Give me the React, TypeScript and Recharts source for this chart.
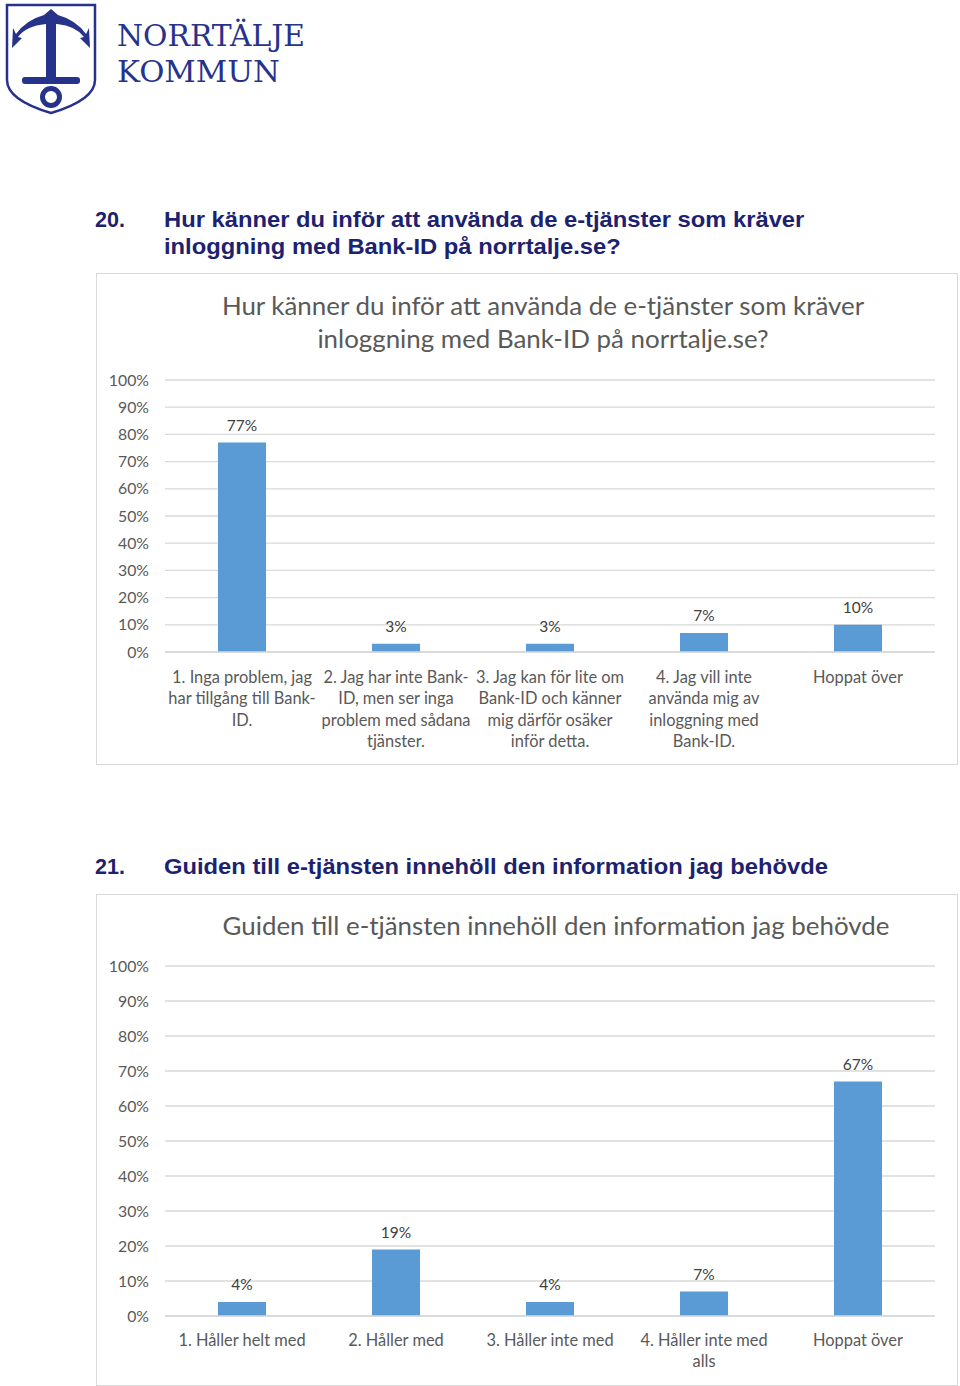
import React, { useLayoutEffect, useRef, useState } from 'react';
import { BarChart, Bar, XAxis, YAxis, CartesianGrid, LabelList } from 'recharts';

const q20Categories = [
  '1. Inga problem, jag\nhar tillgång till Bank-\nID.',
  '2. Jag har inte Bank-\nID, men ser inga\nproblem med sådana\ntjänster.',
  '3. Jag kan för lite om\nBank-ID och känner\nmig därför osäker\ninför detta.',
  '4. Jag vill inte\nanvända mig av\ninloggning med\nBank-ID.',
  'Hoppat över',
];
const q20Values = [77, 3, 3, 7, 10];

const q21Categories = [
  '1. Håller helt med',
  '2. Håller med',
  '3. Håller inte med',
  '4. Håller inte med\nalls',
  'Hoppat över',
];
const q21Values = [4, 19, 4, 7, 67];

const yTicks = [0, 10, 20, 30, 40, 50, 60, 70, 80, 90, 100];

const FONT = 'Lato, "Open Sans", sans-serif';
const BAR = '#5B9BD5';
const GRID = '#d9d9d9';
const TEXT = '#595959';
const NAVY = '#1c2270';
const LOGO = '#27338a';

const q20Data = q20Categories.map((c, i) => ({ name: c, value: q20Values[i] }));
const q21Data = q21Categories.map((c, i) => ({ name: c, value: q21Values[i] }));

const makeTick = (firstOffset: number) => (props: any) => {
  const { x, y, payload } = props;
  const lines = String(payload.value).split('\n');
  return (
    <text x={x} y={y} textAnchor="middle" fill={TEXT} fontSize={16.4} fontFamily={FONT}>
      {lines.map((l, i) => (
        <tspan key={i} x={x} y={y + firstOffset + i * 21.6} dominantBaseline="central">
          {l}
        </tspan>
      ))}
    </text>
  );
};

function ChartBox(props: {
  top: number;
  titleLines: string[];
  titleTop: number;
  titleCenter: number;
  data: { name: string; value: number }[];
  plotTop: number;
  plotBottom: number;
  tickOffset: number;
}) {
  const { top, titleLines, titleTop, titleCenter, data, plotTop, plotBottom, tickOffset } = props;
  const W = 860;
  const H = 490;
  return (
    <div
      style={{
        position: 'absolute',
        left: 96,
        top,
        width: 862,
        height: 492,
        border: '1px solid #d9d9d9',
        boxSizing: 'border-box',
        background: '#fff',
      }}
    >
      <div style={{ position: 'absolute', left: 0, top: 0 }}>
        <BarChart
          width={W}
          height={H}
          data={data}
          margin={{ top: plotTop, right: 22, left: 0, bottom: 0 }}
          barCategoryGap={0}
        >
          <CartesianGrid vertical={false} stroke={GRID} strokeWidth={1.3} />
          <XAxis
            dataKey="name"
            height={H - plotBottom}
            axisLine={{ stroke: GRID, strokeWidth: 1.3 }}
            tickLine={false}
            tickSize={0}
            tickMargin={0}
            interval={0}
            tick={makeTick(tickOffset)}
          />
          <YAxis
            width={68}
            domain={[0, 100]}
            ticks={yTicks}
            interval={0}
            tickFormatter={(v: number) => `${v}%`}
            axisLine={false}
            tickLine={false}
            tickSize={0}
            tickMargin={16}
            tick={{ fill: TEXT, fontSize: 15.8, fontFamily: FONT }}
          />
          <Bar dataKey="value" fill={BAR} barSize={48} isAnimationActive={false}>
            <LabelList
              dataKey="value"
              position="top"
              offset={12}
              formatter={(v: any) => `${v}%`}
              fill="#404040"
              fontSize={15.5}
              fontFamily={FONT}
            />
          </Bar>
        </BarChart>
      </div>
      <div
        style={{
          position: 'absolute',
          left: 0,
          width: titleCenter * 2,
          top: titleTop,
          textAlign: 'center',
          fontFamily: FONT,
          fontSize: 25.9,
          lineHeight: '33px',
          color: TEXT,
          whiteSpace: 'nowrap',
          pointerEvents: 'none',
        }}
      >
        {titleLines.map((l, i) => (
          <div key={i}>{l}</div>
        ))}
      </div>
    </div>
  );
}

function FitText(props: { text: string; top: number; width: number }) {
  const ref = useRef<HTMLSpanElement>(null);
  const [scale, setScale] = useState(1);
  useLayoutEffect(() => {
    if (ref.current) {
      const w = ref.current.getBoundingClientRect().width / scale;
      if (w > 0) setScale(props.width / w);
    }
  }, []);
  return (
    <span
      ref={ref}
      style={{
        position: 'absolute',
        left: 117,
        top: props.top,
        display: 'inline-block',
        fontFamily: '"DejaVu Serif", "Liberation Serif", serif',
        fontSize: 30,
        lineHeight: '34px',
        height: 34,
        color: LOGO,
        whiteSpace: 'nowrap',
        transform: `scaleX(${scale})`,
        transformOrigin: '0 50%',
      }}
    >
      {props.text}
    </span>
  );
}

function Logo() {
  return (
    <>
      <svg width={100} height={118} style={{ position: 'absolute', left: 0, top: 0 }}>
        <path
          d="M7 5 L95 5 L95 80 Q95 100 51 113 Q7 100 7 80 Z"
          fill="#fff"
          stroke={LOGO}
          strokeWidth={2.5}
        />
        <g fill={LOGO}>
          <path d="M51 9 L58 15 Q76 20 86 34 L89 28 L90 48 L80 38 L84 37 Q76 26 57 24 L46 24 Q26 26 18 37 L22 38 L12 48 L13 28 L16 34 Q26 20 44 15 Z" />
          <rect x={46} y={20} width={10} height={64} />
          <rect x={22} y={77} width={58} height={7} rx={3} />
        </g>
        <circle cx={51} cy={97} r={8.5} fill="none" stroke={LOGO} strokeWidth={5} />
      </svg>
      <FitText text="NORRTÄLJE" top={19} width={188} />
      <FitText text="KOMMUN" top={55} width={163} />
    </>
  );
}

function Heading(props: { top: number; num: string; lines: string[] }) {
  return (
    <div
      style={{
        position: 'absolute',
        left: 0,
        top: props.top,
        fontFamily: '"Liberation Sans", Arial, sans-serif',
        fontWeight: 'bold',
        fontSize: 21.5,
        lineHeight: '27px',
        color: NAVY,
        whiteSpace: 'nowrap',
      }}
    >
      <div style={{ position: 'absolute', left: 95, top: 0 }}>{props.num}</div>
      <div
        style={{
          position: 'absolute',
          left: 164,
          top: 0,
          transform: 'scaleX(1.105)',
          transformOrigin: '0 0',
        }}
      >
        {props.lines.map((l, i) => (
          <div key={i}>{l}</div>
        ))}
      </div>
    </div>
  );
}

export default function App() {
  return (
    <div
      style={{
        position: 'absolute',
        left: 0,
        top: 0,
        width: 960,
        height: 1386,
        background: '#fff',
        overflow: 'hidden',
      }}
    >
      <Logo />
      <Heading
        top={207}
        num="20."
        lines={[
          'Hur känner du inför att använda de e-tjänster som kräver',
          'inloggning med Bank-ID på norrtalje.se?',
        ]}
      />
      <ChartBox
        top={273}
        titleLines={[
          'Hur känner du inför att använda de e-tjänster som kräver',
          'inloggning med Bank-ID på norrtalje.se?',
        ]}
        titleTop={15}
        titleCenter={446}
        data={q20Data}
        plotTop={106}
        plotBottom={378}
        tickOffset={24}
      />
      <Heading
        top={854}
        num="21."
        lines={['Guiden till e-tjänsten innehöll den information jag behövde']}
      />
      <ChartBox
        top={894}
        titleLines={['Guiden till e-tjänsten innehöll den information jag behövde']}
        titleTop={14}
        titleCenter={459}
        data={q21Data}
        plotTop={71}
        plotBottom={421}
        tickOffset={23}
      />
    </div>
  );
}
